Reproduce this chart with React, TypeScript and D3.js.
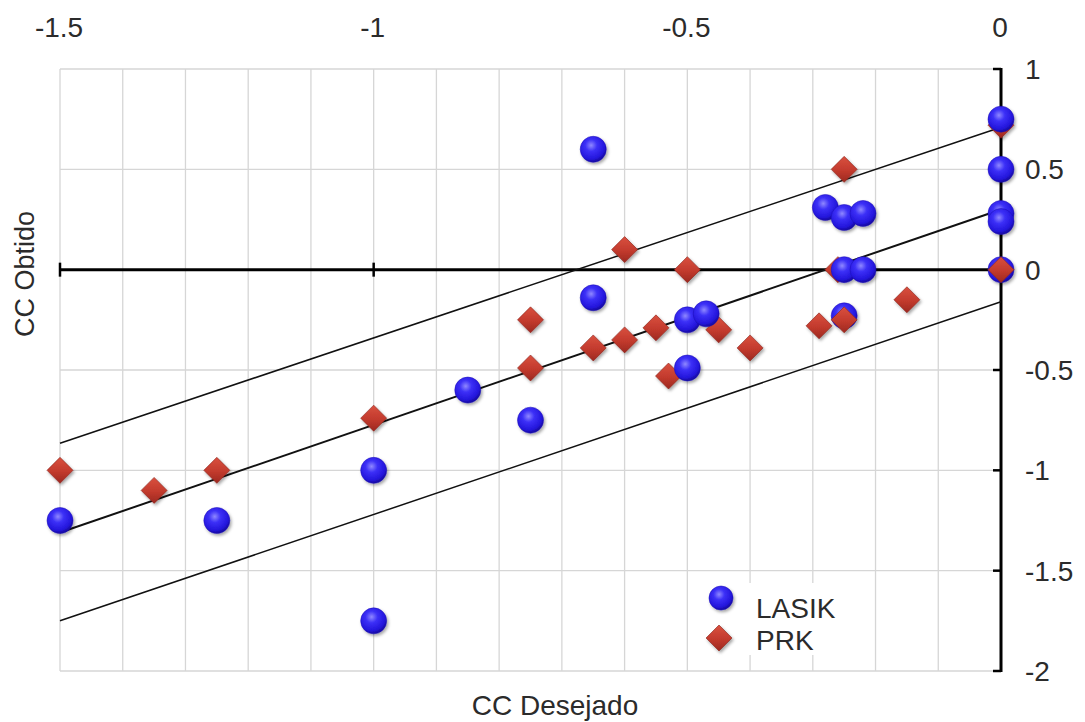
import React from "react";
import * as d3 from "d3";

// Refraction outcome: desired vs. obtained cylinder (D)
const lasikDesired = [-1.5, -1.25, -1, -1, -0.85, -0.75, -0.65, -0.65, -0.5, -0.47, -0.5, -0.28, -0.25, -0.22, -0.25, -0.22, -0.25, 0, 0, 0, 0, 0];
const lasikObtained = [-1.25, -1.25, -1, -1.75, -0.6, -0.75, 0.6, -0.14, -0.25, -0.22, -0.49, 0.31, 0.26, 0.28, 0, 0, -0.23, 0.75, 0.5, 0.28, 0.24, 0];

const prkDesired = [-1.5, -1.35, -1.25, -1, -0.75, -0.75, -0.65, -0.6, -0.6, -0.55, -0.5, -0.53, -0.45, -0.4, -0.29, -0.25, -0.15, -0.25, -0.26, 0, 0];
const prkObtained = [-1, -1.1, -1, -0.74, -0.25, -0.49, -0.39, 0.1, -0.35, -0.29, 0, -0.53, -0.3, -0.39, -0.28, -0.25, -0.15, 0.5, 0, 0.72, 0];

// Regression line and its upper / lower limits, given at both ends of the x range
const fitLine = [{ x: -1.5, y: -1.31 }, { x: 0, y: 0.3 }];
const upperLimit = [{ x: -1.5, y: -0.865 }, { x: 0, y: 0.71 }];
const lowerLimit = [{ x: -1.5, y: -1.75 }, { x: 0, y: -0.16 }];

const xTicks = [-1.5, -1, -0.5, 0];
const xTickLabels = ["-1.5", "-1", "-0.5", "0"];
const yTicks = [1, 0.5, 0, -0.5, -1, -1.5, -2];
const yTickLabels = ["1", "0.5", "0", "-0.5", "-1", "-1.5", "-2"];
const seriesNames = ["LASIK", "PRK"];
const xTitle = "CC Desejado";
const yTitle = "CC Obtido";

const W = 1085;
const H = 722;
const FONT = "'Liberation Sans', Arial, sans-serif";
const TEXT = "#2b2b2b";

export default function App() {
  const x = d3.scaleLinear().domain([-1.5, 0]).range([60, 1001]);
  const y = d3.scaleLinear().domain([-2, 1]).range([671, 69]);

  const xGrid = d3.range(-15, 1).map((i) => i / 10);
  const line = d3
    .line<{ x: number; y: number }>()
    .x((d) => x(d.x))
    .y((d) => y(d.y));

  const R = 13;
  const diamond = (cx: number, cy: number, s: number) =>
    `M${cx},${cy - s}L${cx + s},${cy}L${cx},${cy + s}L${cx - s},${cy}Z`;

  const lasik = lasikDesired.map((d, i) => ({ px: x(d), py: y(lasikObtained[i]) }));
  const prk = prkDesired.map((d, i) => ({ px: x(d), py: y(prkObtained[i]) }));

  // Diamonds sitting on (almost) the same spot as a circle go on top so both stay visible
  const coincident = (p: { px: number; py: number }) =>
    lasik.some((c) => Math.hypot(c.px - p.px, c.py - p.py) < 6);
  const prkUnder = prk.filter((p) => !coincident(p));
  const prkOver = prk.filter((p) => coincident(p));

  const y0 = y(0);
  const xRight = x(0);

  return (
    <svg
      width={W}
      height={H}
      style={{ position: "absolute", left: 0, top: 0, background: "#fff" }}
      fontFamily={FONT}
    >
      <defs>
        <radialGradient id="lasikGrad" cx="42%" cy="35%" r="65%">
          <stop offset="0%" stopColor="#8f88ff" />
          <stop offset="35%" stopColor="#3c30f7" />
          <stop offset="80%" stopColor="#2416dc" />
          <stop offset="100%" stopColor="#170a9e" />
        </radialGradient>
        <linearGradient id="prkGrad" x1="0" y1="0" x2="0" y2="1">
          <stop offset="0%" stopColor="#d9503f" />
          <stop offset="55%" stopColor="#c23a2d" />
          <stop offset="100%" stopColor="#9c2820" />
        </linearGradient>
        <filter id="shadow" x="-50%" y="-50%" width="200%" height="200%">
          <feDropShadow dx="1.5" dy="2" stdDeviation="1.6" floodColor="#000" floodOpacity="0.35" />
        </filter>
      </defs>

      {/* grid */}
      <g stroke="#d6d6d6" strokeWidth={1.3}>
        {xGrid.map((v) => (
          <line key={"gx" + v} x1={x(v)} x2={x(v)} y1={y(1)} y2={y(-2)} />
        ))}
        {yTicks.map((v) => (
          <line key={"gy" + v} x1={x(-1.5)} x2={xRight} y1={y(v)} y2={y(v)} />
        ))}
      </g>

      {/* horizontal axis through y = 0 */}
      <g stroke="#000">
        <line x1={x(-1.5)} x2={xRight} y1={y0} y2={y0} strokeWidth={3} />
        {xTicks.map((v) => (
          <line key={"xt" + v} x1={x(v)} x2={x(v)} y1={y0 - 7} y2={y0 + 7} strokeWidth={2.5} />
        ))}
      </g>

      {/* vertical axis at x = 0 */}
      <g stroke="#000">
        <line x1={xRight} x2={xRight} y1={y(1) - 1} y2={y(-2) + 1} strokeWidth={3} />
        {yTicks.map((v) => (
          <line key={"yt" + v} x1={xRight - 8} x2={xRight} y1={y(v)} y2={y(v)} strokeWidth={2.5} />
        ))}
      </g>

      {/* fitted line and limits */}
      <g fill="none" stroke="#111">
        <path d={line(upperLimit) || ""} strokeWidth={1.5} />
        <path d={line(fitLine) || ""} strokeWidth={2} />
        <path d={line(lowerLimit) || ""} strokeWidth={1.5} />
      </g>

      {/* markers */}
      <g filter="url(#shadow)">
        {prkUnder.map((p, i) => (
          <path key={"pu" + i} d={diamond(p.px, p.py, R)} fill="url(#prkGrad)" stroke="#8a231b" strokeWidth={0.6} />
        ))}
        {lasik.map((p, i) => (
          <circle key={"l" + i} cx={p.px} cy={p.py} r={R} fill="url(#lasikGrad)" stroke="#1c0fb8" strokeWidth={0.5} />
        ))}
        {prkOver.map((p, i) => (
          <path key={"po" + i} d={diamond(p.px, p.py, R)} fill="url(#prkGrad)" stroke="#8a231b" strokeWidth={0.6} />
        ))}
      </g>

      {/* tick labels */}
      <g fill={TEXT} fontSize={28}>
        {xTicks.map((v, i) => (
          <text key={"xl" + v} x={x(v) - 1} y={37} textAnchor="middle">
            {xTickLabels[i]}
          </text>
        ))}
        {yTicks.map((v, i) => (
          <text key={"yl" + v} x={1025} y={y(v) + 10}>
            {yTickLabels[i]}
          </text>
        ))}
      </g>

      {/* axis titles */}
      <text x={555} y={715} textAnchor="middle" fontSize={28} fill={TEXT}>
        {xTitle}
      </text>
      <text
        transform={`translate(34,274) rotate(-90)`}
        textAnchor="middle"
        fontSize={27}
        fill={TEXT}
      >
        {yTitle}
      </text>

      {/* legend */}
      <g>
        <rect x={705} y={583} width={140} height={72} fill="#fff" />
        <g filter="url(#shadow)">
          <circle cx={721} cy={598} r={12} fill="url(#lasikGrad)" stroke="#1c0fb8" strokeWidth={0.5} />
          <path d={diamond(719, 638, 13)} fill="url(#prkGrad)" stroke="#8a231b" strokeWidth={0.6} />
        </g>
        <text x={756} y={618} fontSize={28} fill={TEXT}>
          {seriesNames[0]}
        </text>
        <text x={756} y={650} fontSize={28} fill={TEXT}>
          {seriesNames[1]}
        </text>
      </g>
    </svg>
  );
}
